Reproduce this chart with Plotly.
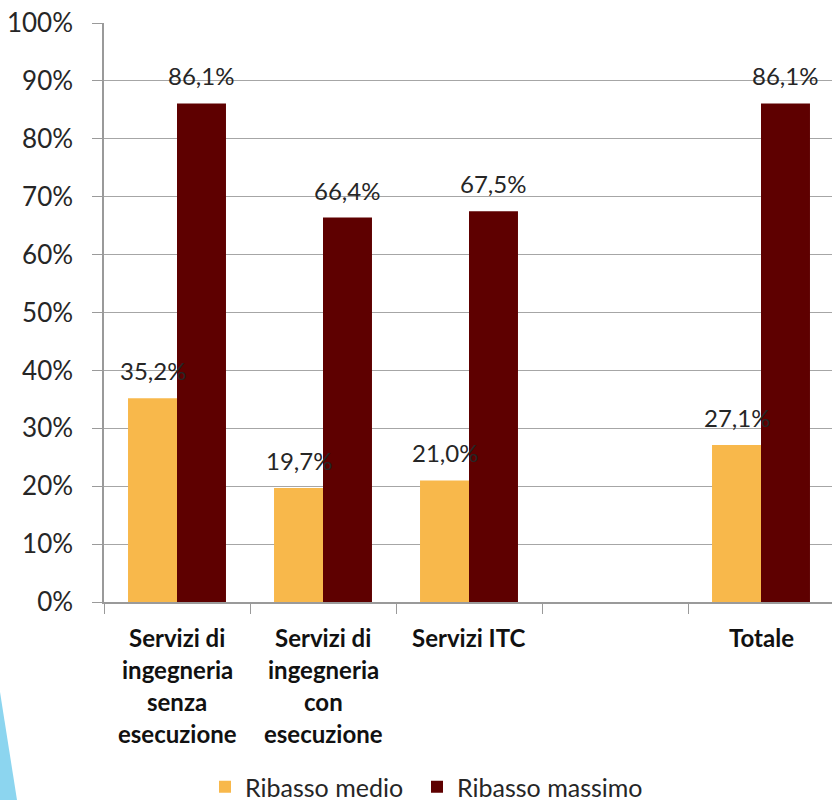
import plotly.graph_objects as go

categories = ["Servizi di<br>ingegneria<br>senza<br>esecuzione",
              "Servizi di<br>ingegneria<br>con<br>esecuzione",
              "Servizi ITC",
              " ",
              "Totale"]
ribasso_medio = [0.352, 0.197, 0.210, None, 0.271]
ribasso_massimo = [0.861, 0.664, 0.675, None, 0.861]
series_names = ["Ribasso medio", "Ribasso massimo"]
y_ticks = [0, 0.1, 0.2, 0.3, 0.4, 0.5, 0.6, 0.7, 0.8, 0.9, 1.0]

ORANGE = "#F8B84B"
DARK = "#5E0000"
FONT = "Lato"
W, H = 832, 800
ML, MT, MB, MR = 104, 23, 198, 0

xidx = list(range(len(categories)))
fig = go.Figure()
fig.add_trace(go.Bar(x=xidx, y=ribasso_medio, name=series_names[0], legend="legend",
                     showlegend=True, marker=dict(color=ORANGE, line_width=0)))
fig.add_trace(go.Bar(x=xidx, y=ribasso_massimo, name=series_names[1], legend="legend2",
                     showlegend=True, marker=dict(color=DARK, line_width=0)))

bargap = 0.329
half = (1 - bargap) / 4
ann = []
for vals, off in ((ribasso_medio, -half), (ribasso_massimo, half)):
    for i, v in enumerate(vals):
        if v is None:
            continue
        ann.append(dict(x=i + off, y=v, xref="x", yref="y",
                        text=f"{v*100:.1f}%".replace(".", ","),
                        showarrow=False, yanchor="bottom", yshift=11,
                        font=dict(family=FONT, size=24, color="#262626")))
# category labels, one line each
for i, c in enumerate(categories):
    for j, line in enumerate(c.split("<br>")):
        if not line.strip():
            continue
        ann.append(dict(x=i, y=0, xref="x", yref="paper", text="<b>" + line + "</b>",
                        showarrow=False, yanchor="middle", yshift=-35 - 32 * j,
                        font=dict(family=FONT, size=24, color="#111111")))

plot_w = W - ML - MR
plot_h = H - MT - MB
def px(xp):
    return (xp - ML) / plot_w
def py(yp):
    return (H - MB - yp) / plot_h

shapes = [dict(type="path", xref="paper", yref="paper",
               path=f"M {px(0)} {py(692)} L {px(17)} {py(800)} L {px(0)} {py(800)} Z",
               fillcolor="#8CD5EF", line_width=0, layer="below")]

legend_style = dict(orientation="h", xanchor="left", yanchor="middle", y=py(787),
                    font=dict(family=FONT, size=25, color="#262626"),
                    itemwidth=30, bgcolor="rgba(0,0,0,0)", visible=True)

fig.update_layout(
    width=W, height=H,
    margin=dict(l=ML, r=MR, t=MT, b=MB, pad=0, autoexpand=False),
    paper_bgcolor="white", plot_bgcolor="white",
    showlegend=True,
    barmode="group", bargap=bargap, bargroupgap=0,
    font=dict(family=FONT, size=22, color="#262626"),
    xaxis=dict(range=[-0.5, -0.5 + plot_w / 146.0], showticklabels=False,
               tickmode="array", tickvals=[i - 0.5 for i in range(6)],
               ticks="outside", ticklen=10, tickcolor="#9A9A9A",
               showline=True, linecolor="#9A9A9A", linewidth=1.5,
               showgrid=False, zeroline=False, automargin=False),
    yaxis=dict(range=[0, 1], tickvals=y_ticks, tickformat=".0%",
               ticks="outside", ticklen=10, tickcolor="#9A9A9A",
               showline=True, linecolor="#9A9A9A", linewidth=1.5,
               showgrid=True, gridcolor="#A6A6A6", gridwidth=1,
               zeroline=False, ticklabelstandoff=14, automargin=False,
               tickfont=dict(family=FONT, size=26, color="#262626")),
    legend=dict(legend_style, x=px(205)),
    legend2=dict(legend_style, x=px(417)),
    annotations=ann, shapes=shapes,
)

fig.write_html("out.html", config={"displayModeBar": False},
               post_script="document.body.style.margin='0px';document.body.style.overflow='hidden';")
